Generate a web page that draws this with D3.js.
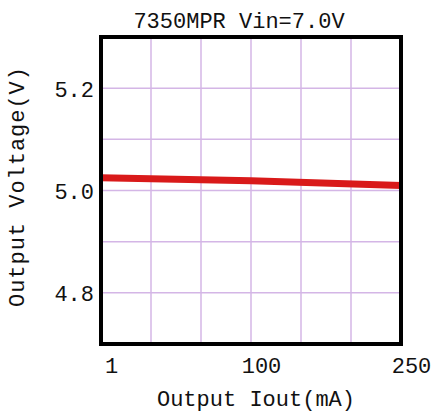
<!DOCTYPE html>
<html><head><meta charset="utf-8">
<script src="https://cdn.jsdelivr.net/npm/d3@7"></script>
<style>
html,body{margin:0;padding:0;background:#fff;}
text{font-family:"Liberation Mono","DejaVu Sans Mono",monospace;fill:#111;}
</style></head>
<body>
<script>
const titleText = "7350MPR Vin=7.0V";
const xLabel = "Output Iout(mA)";
const yLabel = "Output Voltage(V)";
const xTickLabels = [1, 100, 250];
const xGridValues = [34, 67, 100, 150, 200];
const yTickLabels = [4.8, 5.0, 5.2];
const yGridValues = [4.8, 4.9, 5.0, 5.1, 5.2];
const iout = [1, 100, 250];
const vout = [5.025, 5.019, 5.010];

const W = 433, H = 416;
const svg = d3.select("body").append("svg").attr("width", W).attr("height", H);
const pL = 101, pR = 401, pT = 37, pB = 344;

const x = d3.scaleLinear().domain([1, 100, 250]).range([pL, (pL + pR) / 2, pR]);
const y = d3.scaleLinear().domain([4.7, 5.3]).range([pB, pT]);

const grid = "#d4b6e6";
svg.append("g").selectAll("line").data(xGridValues).join("line")
  .attr("x1", d => x(d)).attr("x2", d => x(d)).attr("y1", pT).attr("y2", pB)
  .attr("stroke", grid).attr("stroke-width", 1.5);
svg.append("g").selectAll("line").data(yGridValues).join("line")
  .attr("y1", d => y(d)).attr("y2", d => y(d)).attr("x1", pL).attr("x2", pR)
  .attr("stroke", grid).attr("stroke-width", 1.5);

const line = d3.line().x((d, i) => x(iout[i])).y(d => y(d));
svg.append("path").datum(vout).attr("d", line)
  .attr("fill", "none").attr("stroke", "#d91a1a").attr("stroke-width", 7);

svg.append("rect").attr("x", pL).attr("y", pT).attr("width", pR - pL).attr("height", pB - pT)
  .attr("fill", "none").attr("stroke", "#000").attr("stroke-width", 4);

// x axis
const xAxis = d3.axisBottom(x).tickValues(xTickLabels).tickSize(0).tickFormat(d3.format("d"));
const gx = svg.append("g").attr("transform", `translate(0,${pB})`).call(xAxis);
gx.select(".domain").remove();
gx.selectAll("text").attr("font-size", 22).attr("dx", 10).attr("dy", 0).attr("y", 29)
  .style("font-family", '"Liberation Mono","DejaVu Sans Mono",monospace').attr("fill", "#111");

// y axis
const yAxis = d3.axisLeft(y).tickValues(yTickLabels).tickSize(0).tickFormat(d3.format(".1f"));
const gy = svg.append("g").attr("transform", `translate(${pL},0)`).call(yAxis);
gy.select(".domain").remove();
gy.selectAll("text").attr("font-size", 22).attr("x", -7).attr("dy", "0.36em")
  .style("font-family", '"Liberation Mono","DejaVu Sans Mono",monospace').attr("fill", "#111");

svg.append("text").attr("x", 239).attr("y", 28).attr("text-anchor", "middle")
  .attr("font-size", 22).text(titleText);
svg.append("text").attr("x", 256).attr("y", 406).attr("text-anchor", "middle")
  .attr("font-size", 22).text(xLabel);
svg.append("text").attr("transform", "translate(24,187) rotate(-90)").attr("text-anchor", "middle")
  .attr("font-size", 22).attr("textLength", 240).text(yLabel);
</script>
</body></html>
